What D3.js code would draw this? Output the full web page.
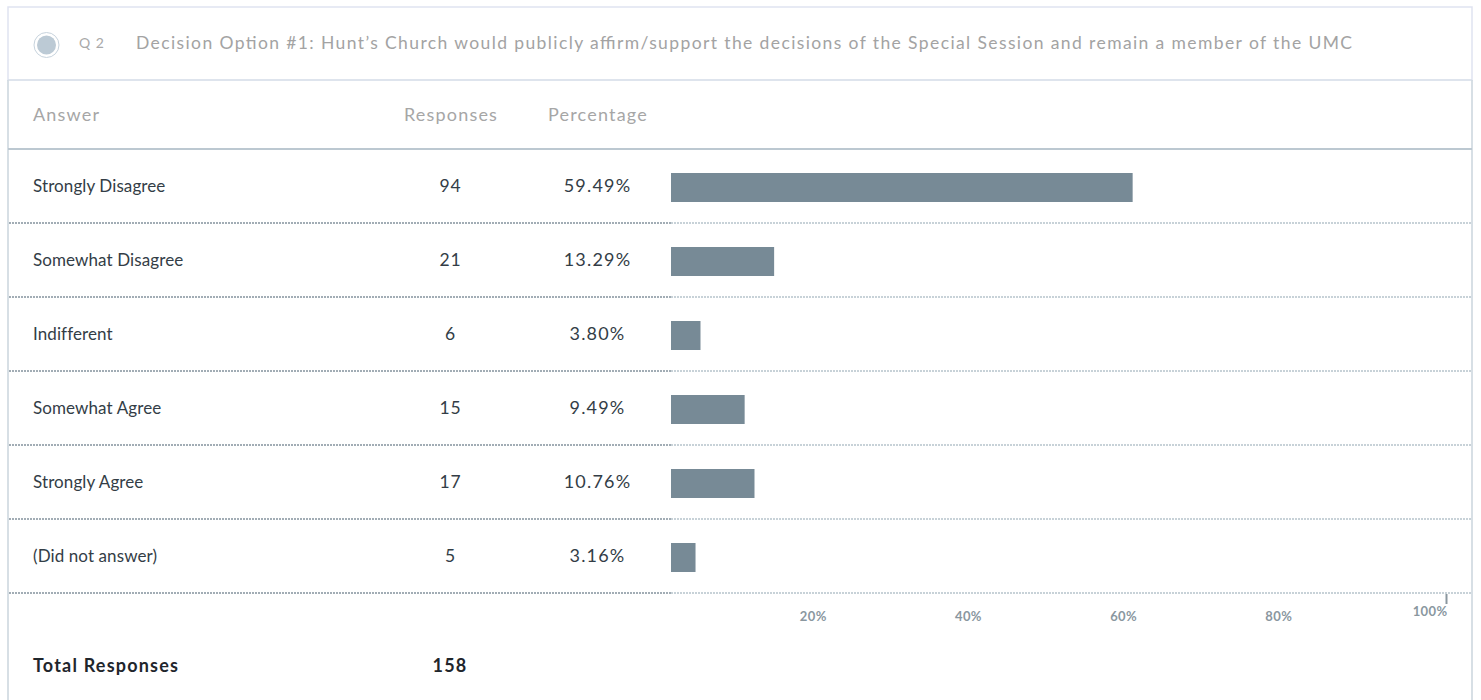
<!DOCTYPE html>
<html>
<head>
<meta charset="utf-8">
<script src="https://cdn.jsdelivr.net/npm/d3@7"></script>
<style>
  body { margin: 0; background: #fff; }
  text { font-family: Lato, "Open Sans", sans-serif; }
  .head { font-size: 18px; letter-spacing: 1.2px; fill: #a6a6a6; }
  .lbl { font-size: 17px; letter-spacing: 0.1px; fill: #333d46; }
  .num { font-size: 17.5px; letter-spacing: 0.8px; fill: #333d46; }
  .pct { font-size: 18px; letter-spacing: 1.2px; fill: #333d46; }
  .total { font-size: 18px; letter-spacing: 1.2px; font-weight: bold; fill: #1f262c; }
</style>
</head>
<body>
<svg id="chart"></svg>
<script>
// survey data
const questionNo = "Q 2";
const questionText = "Decision Option #1: Hunt\u2019s Church would publicly affirm/support the decisions of the Special Session and remain a member of the UMC";
const answers = ["Strongly Disagree", "Somewhat Disagree", "Indifferent", "Somewhat Agree", "Strongly Agree", "(Did not answer)"];
const responses = [94, 21, 6, 15, 17, 5];
const percentages = [59.49, 13.29, 3.80, 9.49, 10.76, 3.16];
const tickValues = [20, 40, 60, 80, 100];
const totalResponses = 158;

const W = 1481, H = 700;
const boxLeft = 8, boxRight = 1472;

const svg = d3.select("#chart").attr("width", W).attr("height", H);

// header box
svg.append("rect")
    .attr("x", boxLeft).attr("y", 7)
    .attr("width", boxRight - boxLeft).attr("height", 73)
    .attr("fill", "#fff")
    .attr("stroke", "#dfe3f1").attr("stroke-width", 1.5);

// body side borders
svg.append("line").attr("x1", boxLeft).attr("x2", boxLeft).attr("y1", 80).attr("y2", H)
    .attr("stroke", "#cad4dc").attr("stroke-width", 1.5);
svg.append("line").attr("x1", boxRight).attr("x2", boxRight).attr("y1", 80).attr("y2", H)
    .attr("stroke", "#cad4dc").attr("stroke-width", 1.5);
svg.append("line").attr("x1", boxLeft).attr("x2", boxRight).attr("y1", 80).attr("y2", 80)
    .attr("stroke", "#d6dee6").attr("stroke-width", 1.2);

// radio icon
svg.append("circle").attr("cx", 46.5).attr("cy", 45).attr("r", 12.5)
    .attr("fill", "#fff").attr("stroke", "#c7d3dd").attr("stroke-width", 1);
svg.append("circle").attr("cx", 46.5).attr("cy", 45).attr("r", 9.5)
    .attr("fill", "#bccad5");

svg.append("text").attr("x", 79).attr("y", 44)
    .attr("font-size", 14).attr("letter-spacing", "1px").attr("fill", "#a9a9a9")
    .attr("dominant-baseline", "middle")
    .text(questionNo);
svg.append("text").attr("x", 136).attr("y", 45)
    .attr("font-size", 17.5).attr("fill", "#a3a3a3")
    .attr("dominant-baseline", "middle")
    .attr("textLength", 1216).attr("lengthAdjust", "spacing")
    .text(questionText);

// column headers
const headY = 116;
svg.append("text").attr("class", "head").attr("x", 33).attr("y", headY)
    .attr("dominant-baseline", "middle").text("Answer");
svg.append("text").attr("class", "head").attr("x", 451).attr("y", headY)
    .attr("dominant-baseline", "middle").attr("text-anchor", "middle").text("Responses");
svg.append("text").attr("class", "head").attr("x", 598).attr("y", headY)
    .attr("dominant-baseline", "middle").attr("text-anchor", "middle").text("Percentage");
svg.append("line").attr("x1", boxLeft).attr("x2", boxRight).attr("y1", 149).attr("y2", 149)
    .attr("stroke", "#bcc8d1").attr("stroke-width", 2);

// scales
const x = d3.scaleLinear().domain([0, 100]).range([671, 1447]);
const y = d3.scaleBand().domain(answers).range([149, 593]);

const rows = svg.append("g").selectAll("g")
    .data(answers)
    .join("g")
    .attr("transform", d => "translate(0," + y(d) + ")");

const bh = y.bandwidth();

rows.append("text")
    .attr("class", "lbl")
    .attr("x", 33).attr("y", bh / 2 + 1.5)
    .attr("dominant-baseline", "middle")
    .text(d => d);

rows.append("text")
    .attr("class", "num")
    .attr("x", 450.5).attr("y", bh / 2 + 1.5)
    .attr("text-anchor", "middle").attr("dominant-baseline", "middle")
    .text((d, i) => responses[i]);

rows.append("text")
    .attr("class", "pct")
    .attr("x", 597.5).attr("y", bh / 2 + 1.5)
    .attr("text-anchor", "middle").attr("dominant-baseline", "middle")
    .text((d, i) => percentages[i].toFixed(2) + "%");

rows.append("rect")
    .attr("x", x(0))
    .attr("y", bh / 2 - 13)
    .attr("width", (d, i) => x(percentages[i]) - x(0))
    .attr("height", 29)
    .attr("fill", "#778a96");

// dotted separators
rows.append("line")
    .attr("x1", boxLeft + 1).attr("x2", x(0))
    .attr("y1", bh).attr("y2", bh)
    .attr("stroke", "#84939d").attr("stroke-width", 1.5)
    .attr("stroke-dasharray", "2,1");
rows.append("line")
    .attr("x1", x(0)).attr("x2", boxRight - 1)
    .attr("y1", bh).attr("y2", bh)
    .attr("stroke", "#b6c3cc").attr("stroke-width", 1.5)
    .attr("stroke-dasharray", "2,1");

// percentage axis
const axis = svg.append("g")
    .attr("transform", "translate(0,593)")
    .call(d3.axisBottom(x).tickValues(tickValues).tickSize(0).tickFormat(d => d + "%"));
axis.select(".domain").remove();
axis.selectAll("text")
    .attr("text-anchor", "end")
    .attr("dy", null)
    .attr("y", 25)
    .attr("dominant-baseline", "middle")
    .attr("font-size", 13)
    .attr("font-weight", "bold")
    .attr("letter-spacing", "0.4px")
    .attr("fill", "#8a979f")
    .attr("x", 0);
axis.selectAll(".tick").filter(d => d === 100).select("text").attr("y", 20);
axis.selectAll(".tick").filter(d => d === 100).select("line")
    .attr("y1", 1).attr("y2", 11)
    .attr("stroke", "#8a979f").attr("stroke-width", 2)
    .attr("transform", "translate(-1,0)");

// total
svg.append("text").attr("class", "total").attr("x", 33).attr("y", 667)
    .attr("dominant-baseline", "middle")
    .text("Total Responses");
svg.append("text").attr("class", "total").attr("x", 450).attr("y", 667)
    .attr("dominant-baseline", "middle").attr("text-anchor", "middle")
    .text(totalResponses);
</script>
</body>
</html>
